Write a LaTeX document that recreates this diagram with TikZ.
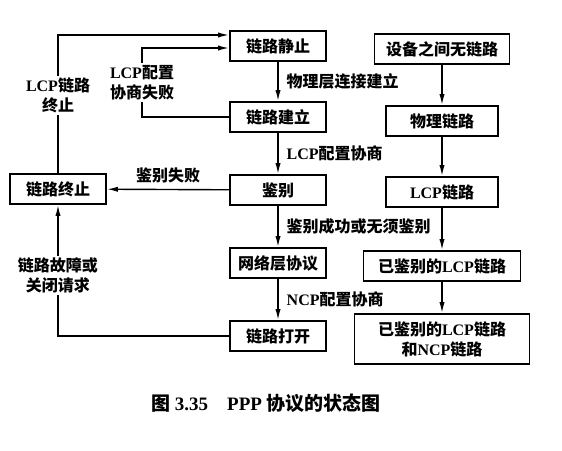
\documentclass[tikz,border=0pt]{standalone}
\usepackage{fontspec}
\setmainfont{Liberation Serif}
\newfontfamily\zhfont{Noto Sans CJK SC}
\newcommand{\zh}[1]{{\zhfont #1}}
\usepackage{xcolor}
\usepackage{tikz}
\usetikzlibrary{positioning, arrows.meta}

\tikzset{
  state/.style={draw, line width=0.9pt, minimum width=48pt, minimum height=15pt,
        inner sep=1pt, align=center, font=\fontsize{8}{10}\selectfont\bfseries},
  trans/.style={-{Latex[length=5.5pt, width=2.6pt]}, line width=0.7pt},
  cond/.style={inner sep=1pt, align=center, font=\fontsize{8}{10}\selectfont\bfseries},
}

\begin{document}
\begin{tikzpicture}[x=0.5pt, y=-0.5pt]
  \useasboundingbox (0,0) rectangle (562,450);

  % states of the link
  \node[state] (quiet)  at (278,46)  {\zh{链路静止}};
  \node[state] (estab)  at (278,117) {\zh{链路建立}};
  \node[state] (auth)   at (278,190) {\zh{鉴别}};
  \node[state] (netp)   at (278,263) {\zh{网络层协议}};
  \node[state] (open)   at (278,336) {\zh{链路打开}};
  \node[state] (term)   at (58,189)  {\zh{链路终止}};

  % what the link is like at each step
  \node[state, minimum width=67.5pt] (nolink)  at (442,49)  {\zh{设备之间无链路}};
  \node[state, minimum width=56pt]   (phys)    at (442,121) {\zh{物理链路}};
  \node[state, minimum width=56pt]   (lcp)     at (442,192) {LCP\zh{链路}};
  \node[state, minimum width=78.5pt] (authlcp) at (442,266) {\zh{已鉴别的}LCP\zh{链路}};
  \node[state, minimum width=87.5pt, minimum height=25pt] (authncp) at (442,339)
        {\zh{已鉴别的}LCP\zh{链路}\\\zh{和}NCP\zh{链路}};

  \coordinate (cfgfail) at (142,48);
  \coordinate (lcpend)  at (58,35);

  \draw[trans] (quiet) -- node[cond, right=3pt] {\zh{物理层连接建立}} (estab);
  \draw[trans] (estab) -- node[cond, right=3pt] {LCP\zh{配置协商}} (auth);
  \draw[trans] (auth) -- node[cond, right=3pt] {\zh{鉴别成功或无须鉴别}} (netp);
  \draw[trans] (netp) -- node[cond, right=3pt] {NCP\zh{配置协商}} (open);
  \draw[trans] (auth) -- node[cond, above=2pt] {\zh{鉴别失败}} (term);

  \draw[trans] (estab.west) -| node[cond, fill=white, pos=0.75] {LCP\zh{配置}\\\zh{协商失败}}
        (cfgfail) -- (quiet.west |- cfgfail);
  \draw[trans] (term.north) |- node[cond, fill=white, pos=0.28] {LCP\zh{链路}\\\zh{终止}}
        (quiet.west |- lcpend);
  \draw[trans] (open.west) -| node[cond, fill=white, pos=0.73] {\zh{链路故障或}\\\zh{关闭请求}}
        (term.south);

  \draw[trans] (nolink) -- (phys);
  \draw[trans] (phys) -- (lcp);
  \draw[trans] (lcp) -- (authlcp);
  \draw[trans] (authlcp) -- (authncp);

  \node[cond, font=\fontsize{9.5}{11}\selectfont\bfseries] (caption) at (266,403)
        {\zh{图} 3.35\quad PPP \zh{协议的状态图}};
\end{tikzpicture}
\end{document}
